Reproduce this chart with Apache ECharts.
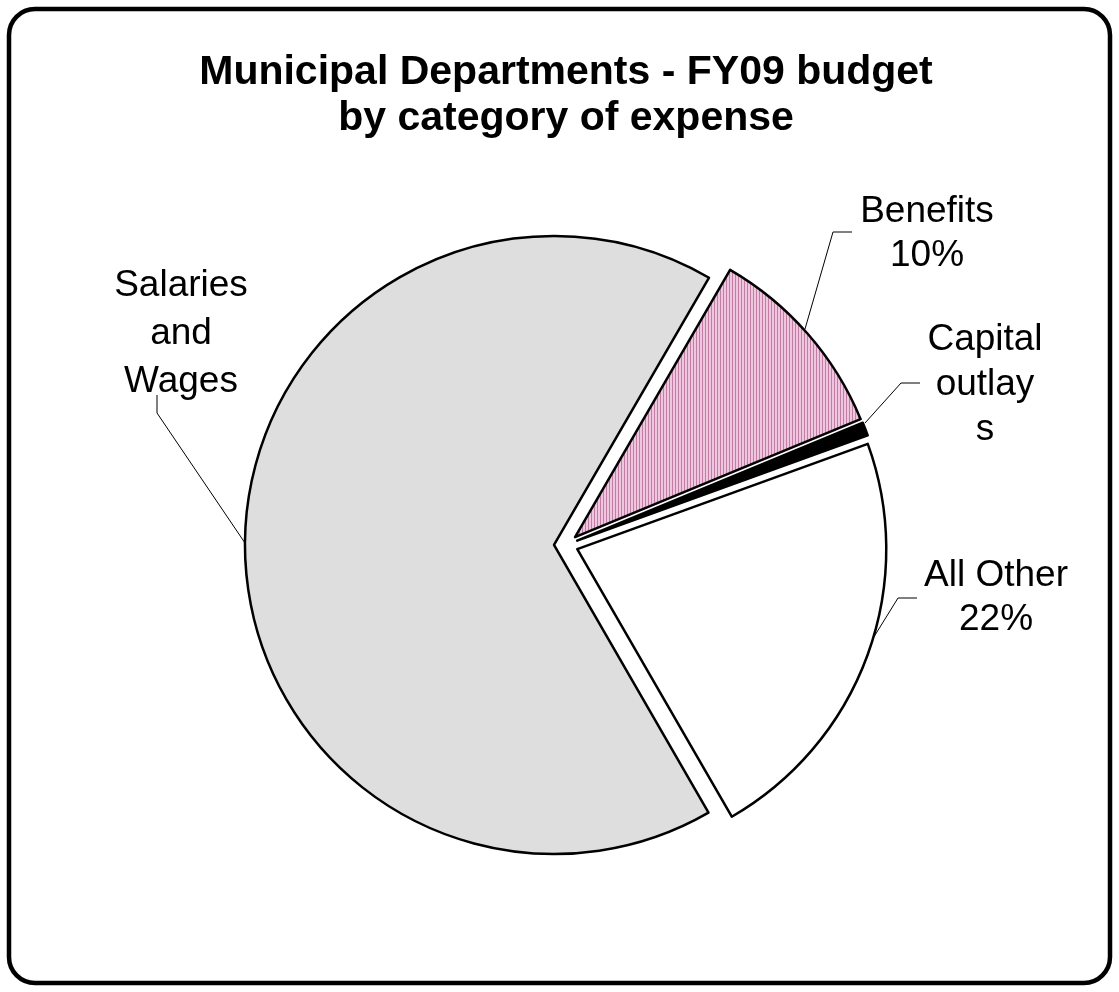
<!DOCTYPE html>
<html>
<head>
<meta charset="utf-8">
<script src="https://cdn.jsdelivr.net/npm/echarts@6/dist/echarts.min.js"></script>
<style>
html,body{margin:0;padding:0;background:#fff;}
#chart{width:1119px;height:992px;}
</style>
</head>
<body>
<div id="chart"></div>
<script>
// ---- data ----
const categories = ['Salaries and Wages', 'Benefits', 'Capital outlays', 'All Other'];
const values = [66.7, 10.4, 0.7, 22.2];
const labelLines = [['Salaries', 'and', 'Wages'], ['Benefits'], ['Capital', 'outlay', 's'], ['All Other']];
const showPercent = [false, true, false, true];
const titleLines = ['Municipal Departments - FY09 budget', 'by category of expense'];

// ---- styles / layout ----
function stripePattern() {
  const c = document.createElement('canvas');
  c.width = 3; c.height = 4;
  const g = c.getContext('2d');
  g.fillStyle = '#eec6de';
  g.fillRect(0, 0, 3, 4);
  g.fillStyle = '#c27ca6';
  g.fillRect(0, 0, 1, 4);
  return c;
}
const fills = ['#dedede', {image: stripePattern(), repeat: 'repeat'}, '#000000', '#ffffff'];
const labelLayouts = [
  {x: 181, y: 334, pts: [[245, 543], [157, 413], [157, 395]]},
  {x: 927, y: 234, pts: [[805, 329], [833, 232], [852, 232]]},
  {x: 985, y: 385, pts: [[865, 423], [901, 383], [920, 383]]},
  {x: 996, y: 598, pts: [[872, 640], [898, 598], [917, 598]]}
];
const lineHeights = [48, 44, 45, 44];
const pieCenter = [566, 545];
const pieRadius = 309;
const explode = 12;
const startAngle = -60; // ECharts degrees (counter-clockwise from 3 o'clock)

const total = values.reduce((a, b) => a + b, 0);

// one series per slice so that each slice can be pulled out along its own mid-angle
const series = [];
let acc = 0;
values.forEach((v, k) => {
  const midCw = (90 - startAngle) + (acc + v / 2) / total * 360; // clockwise from 12 o'clock
  acc += v;
  const rad = midCw * Math.PI / 180;
  const c = [pieCenter[0] + explode * Math.sin(rad), pieCenter[1] - explode * Math.cos(rad)];
  series.push({
    type: 'pie',
    name: categories[k],
    center: c,
    radius: [0, pieRadius],
    startAngle: startAngle,
    clockwise: true,
    avoidLabelOverlap: false,
    emphasis: {disabled: true},
    silent: true,
    data: categories.map((name, i) => {
      const on = i === k;
      return {
        name: name,
        value: values[i],
        itemStyle: on ? {color: fills[i], borderColor: '#000', borderWidth: 2.5}
                      : {color: 'rgba(0,0,0,0)', borderWidth: 0},
        label: {show: on, lineHeight: lineHeights[i]},
        labelLine: {show: on}
      };
    }),
    label: {
      position: 'outside',
      fontFamily: 'Liberation Sans, Arial, sans-serif',
      fontSize: 37,
      color: '#000',
      align: 'center',
      formatter: function (p) {
        const i = p.dataIndex;
        const lines = labelLines[i].slice();
        if (showPercent[i]) lines.push(Math.round(values[i] / total * 100) + '%');
        return lines.join('\n');
      }
    },
    labelLine: {
      lineStyle: {color: '#000', width: 1}
    },
    labelLayout: function (params) {
      const L = labelLayouts[params.dataIndex];
      return {
        x: L.x,
        y: L.y,
        align: 'center',
        verticalAlign: 'middle',
        labelLinePoints: L.pts
      };
    }
  });
});

const chart = echarts.init(document.getElementById('chart'), null, {renderer: 'canvas'});
chart.setOption({
  animation: false,
  backgroundColor: '#ffffff',
  title: {
    text: titleLines.join('\n'),
    left: 561,
    top: 45,
    textAlign: 'center',
    textStyle: {
      fontFamily: 'Liberation Sans, Arial, sans-serif',
      fontSize: 41,
      fontWeight: 'bold',
      color: '#000',
      lineHeight: 46
    }
  },
  graphic: [{
    type: 'rect',
    shape: {x: 9, y: 9, width: 1101, height: 974, r: 26},
    style: {fill: 'none', stroke: '#000', lineWidth: 4.5},
    silent: true,
    z: 100
  }],
  series: series
});
</script>
</body>
</html>
